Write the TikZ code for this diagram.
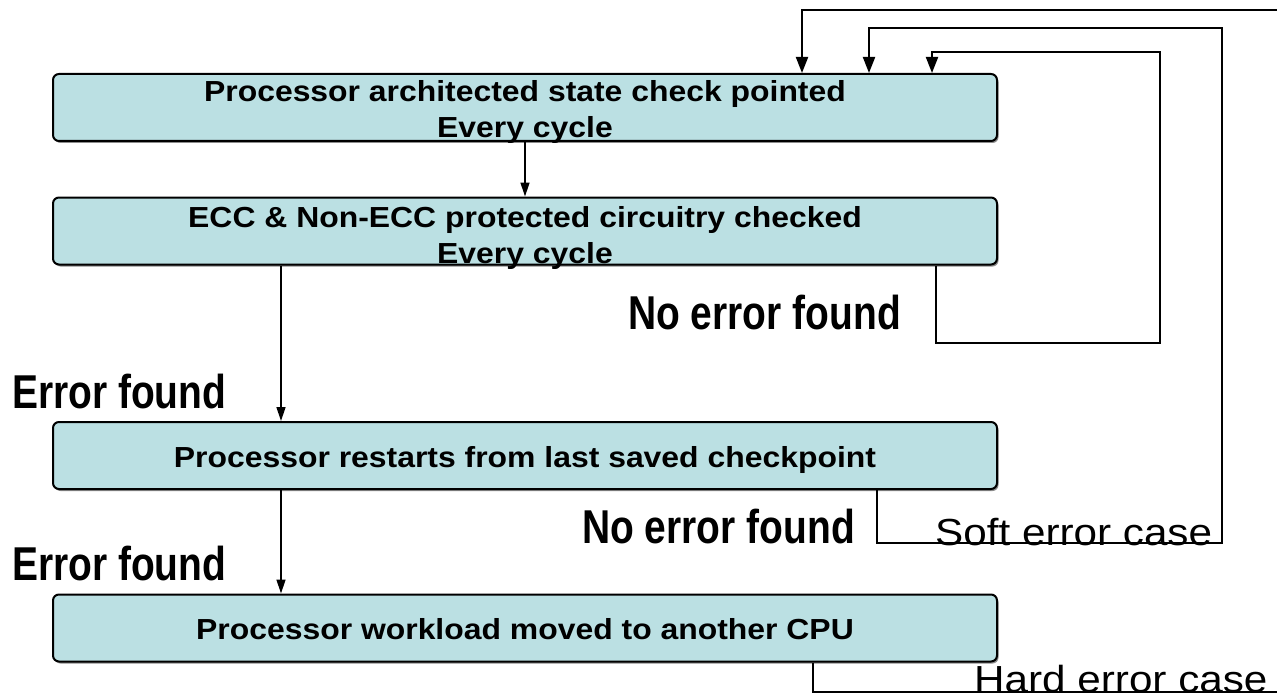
\documentclass[tikz,border=0pt]{standalone}
\usepackage{fontspec}
\usetikzlibrary{arrows.meta}

% Fonts: bold box captions, condensed bold branch labels, regular case labels
\newfontfamily\boxfont[FakeStretch=1.10]{Liberation Sans Bold}
\newfontfamily\branchfont[FakeStretch=0.82]{Liberation Sans Bold}
\newfontfamily\casefont[FakeStretch=1.12]{Liberation Sans}

\definecolor{boxfill}{RGB}{187,224,227}

\tikzset{
  procbox/.style={draw=black, line width=2pt, rounded corners=6pt, fill=boxfill,
    minimum width=944pt, minimum height=67pt, inner sep=0pt},
  boxshadow/.style={fill=black!45, rounded corners=6pt, draw=none,
    minimum width=944pt, minimum height=67pt, inner sep=0pt},
  boxtext/.style={anchor=base, inner sep=0pt, font=\boxfont\fontsize{29}{36}\selectfont},
  branch/.style={anchor=base west, inner sep=0pt, font=\branchfont\fontsize{47.5}{50}\selectfont},
  caselabel/.style={anchor=base west, inner sep=0pt, font=\casefont\fontsize{37.7}{40}\selectfont},
  flow/.style={draw=black, line width=1.4pt, -{Triangle[width=9pt,length=14pt]}},
  loopline/.style={draw=black, line width=2pt},
  looparrow/.style={loopline, -{Triangle[width=12pt,length=16pt]}},
}

\begin{document}
\begin{tikzpicture}[x=1pt, y=-1pt]
  \clip (0,0) rectangle (1277,698);
  \fill[white] (0,0) rectangle (1277,698);

  % drop shadows
  \node[boxshadow] (s1) at (526.5,109.5) {};
  \node[boxshadow] (s2) at (526.5,233) {};
  \node[boxshadow] (s3) at (526.5,457.5) {};
  \node[boxshadow] (s4) at (526.5,630) {};

  % process boxes
  \node[procbox] (b1) at (525,107.5) {};
  \node[procbox] (b2) at (525,231) {};
  \node[procbox] (b3) at (525,455.5) {};
  \node[procbox] (b4) at (525,628) {};

  % box captions
  \node[boxtext] (b1a) at (525,102) {Processor architected state check pointed};
  \node[boxtext] (b1b) at (525,138) {Every cycle};
  \node[boxtext] (b2a) at (525,227) {ECC \& Non-ECC protected circuitry checked};
  \node[boxtext] (b2b) at (525,263) {Every cycle};
  \node[boxtext] (b3a) at (525,467) {Processor restarts from last saved checkpoint};
  \node[boxtext] (b4a) at (525,639.5) {Processor workload moved to another CPU};

  % main downward flow
  \coordinate (xmid) at (525,0);
  \coordinate (xleft) at (281,0);
  \draw[flow] (b1.south -| xmid) -- (b2.north -| xmid);
  \draw[flow] (b2.south -| xleft) -- (b3.north -| xleft);
  \draw[flow] (b3.south -| xleft) -- (b4.north -| xleft);

  % no-error loop back from the circuitry check
  \coordinate (nA) at (936,343);
  \coordinate (nB) at (1160,343);
  \coordinate (nC) at (1160,52);
  \coordinate (nD) at (932,52);
  \draw[looparrow] (b2.south -| nA) -- (nA) -- (nB) -- (nC) -- (nD) -- (b1.north -| nD);

  % soft error loop back from the restart
  \coordinate (sA) at (877,543);
  \coordinate (sB) at (1222,543);
  \coordinate (sC) at (1222,28);
  \coordinate (sD) at (869,28);
  \draw[looparrow] (b3.south -| sA) -- (sA) -- (sB) -- (sC) -- (sD) -- (b1.north -| sD);

  % hard error path, leaving and re-entering at the right edge
  \coordinate (hA) at (813,692);
  \coordinate (hB) at (1300,692);
  \coordinate (hC) at (1300,10);
  \coordinate (hD) at (802,10);
  \draw[loopline] (b4.south -| hA) -- (hA) -- (hB);
  \draw[looparrow] (hC) -- (hD) -- (b1.north -| hD);

  % branch labels
  \node[branch] (ne1) at (628,329) {No error found};
  \node[branch] (ef1) at (12,408) {Error found};
  \node[branch] (ne2) at (582,543) {No error found};
  \node[branch] (ef2) at (12,580) {Error found};
  \node[caselabel] (soft) at (935,545) {Soft error case};
  \node[caselabel] (hard) at (974,692) {Hard error case};
\end{tikzpicture}
\end{document}
